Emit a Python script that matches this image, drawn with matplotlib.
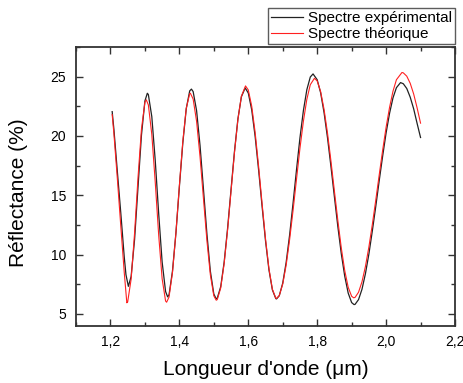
import numpy as np
import matplotlib
matplotlib.use("Agg")
import matplotlib.pyplot as plt
from matplotlib.ticker import MultipleLocator, FuncFormatter

plt.rcParams['font.family'] = ['Liberation Sans', 'DejaVu Sans']

# Spectre expérimental
x_exp = [1.205, 1.21, 1.22, 1.23, 1.24, 1.245, 1.252, 1.26, 1.27, 1.28, 1.29, 1.30, 1.307,
         1.31, 1.32, 1.33, 1.34, 1.35, 1.36, 1.366, 1.37, 1.38, 1.39, 1.40, 1.41, 1.42, 1.43, 1.435,
         1.44, 1.45, 1.46, 1.47, 1.48, 1.49, 1.50, 1.507, 1.51, 1.52, 1.53, 1.54, 1.55, 1.56, 1.57,
         1.58, 1.591, 1.60, 1.61, 1.62, 1.63, 1.64, 1.65, 1.66, 1.67, 1.68, 1.682, 1.69, 1.70, 1.71,
         1.72, 1.73, 1.74, 1.75, 1.76, 1.77, 1.78, 1.788, 1.80, 1.81, 1.82, 1.83, 1.84, 1.85, 1.86,
         1.87, 1.88, 1.89, 1.90, 1.907, 1.91, 1.92, 1.93, 1.94, 1.95, 1.96, 1.97, 1.98, 1.99, 2.00,
         2.01, 2.02, 2.03, 2.042, 2.05, 2.06, 2.07, 2.08, 2.09, 2.10]
r_exp = [22.05, 20.56, 17.0, 13.5, 9.8, 8.3, 7.32, 8.15, 11.26, 15.69, 20.07, 22.95, 23.6,
         23.49, 21.63, 17.93, 13.44, 9.37, 6.88, 6.43, 6.6, 8.6, 11.8, 15.7, 19.4, 22.3, 23.8, 23.95,
         23.74, 22.13, 19.19, 15.49, 11.73, 8.59, 6.67, 6.26, 6.32, 7.29, 9.36, 12.22, 15.49, 18.71, 21.45,
         23.3, 24.05, 23.62, 22.2, 19.94, 17.13, 14.09, 11.17, 8.71, 7.02, 6.28, 6.26, 6.53, 7.59, 9.35,
         11.65, 14.34, 17.15, 19.84, 22.14, 23.9, 24.97, 25.23, 24.74, 23.64, 21.96, 19.84, 17.41, 14.86, 12.35,
         10.06, 8.17, 6.75, 5.95, 5.78, 5.8, 6.2, 7.07, 8.38, 10.03, 11.98, 14.05, 16.22, 18.3, 20.25,
         21.9, 23.21, 24.07, 24.5, 24.4, 24.0, 23.27, 22.29, 21.06, 19.87]

# Spectre théorique
x_th = [1.205, 1.21, 1.22, 1.23, 1.24, 1.2475, 1.25, 1.26, 1.27, 1.28, 1.29, 1.30, 1.304,
        1.31, 1.32, 1.33, 1.34, 1.35, 1.36, 1.363, 1.37, 1.38, 1.39, 1.40, 1.41, 1.42, 1.43, 1.432,
        1.44, 1.45, 1.46, 1.47, 1.48, 1.49, 1.50, 1.507, 1.51, 1.52, 1.53, 1.54, 1.55, 1.56, 1.57,
        1.58, 1.592, 1.60, 1.61, 1.62, 1.63, 1.64, 1.65, 1.66, 1.67, 1.68, 1.682, 1.69, 1.70, 1.71,
        1.72, 1.73, 1.74, 1.75, 1.76, 1.77, 1.78, 1.792, 1.80, 1.81, 1.82, 1.83, 1.84, 1.85, 1.86,
        1.87, 1.88, 1.89, 1.90, 1.906, 1.91, 1.92, 1.93, 1.94, 1.95, 1.96, 1.97, 1.98, 1.99, 2.00,
        2.01, 2.02, 2.03, 2.046, 2.05, 2.06, 2.07, 2.08, 2.09, 2.10]
r_th = [21.8, 20.2, 16.4, 12.4, 8.5, 5.93, 6.01, 7.92, 11.8, 16.5, 20.58, 22.84, 23.05,
        22.62, 20.13, 16.1, 11.63, 7.96, 6.08, 5.98, 6.42, 8.48, 11.83, 15.79, 19.53, 22.33, 23.57, 23.6,
        23.11, 21.23, 18.24, 14.69, 11.16, 8.28, 6.52, 6.15, 6.2, 7.18, 9.24, 12.08, 15.35, 18.62, 21.4,
        23.35, 24.22, 23.88, 22.51, 20.28, 17.43, 14.33, 11.34, 8.81, 7.07, 6.31, 6.3, 6.54, 7.51, 9.12,
        11.26, 13.72, 16.36, 18.96, 21.24, 23.09, 24.32, 24.86, 24.64, 23.74, 22.23, 20.23, 17.87, 15.35, 12.86,
        10.55, 8.64, 7.24, 6.48, 6.35, 6.39, 6.82, 7.7, 8.99, 10.63, 12.52, 14.58, 16.71, 18.79, 20.73,
        22.4, 23.77, 24.74, 25.35, 25.32, 25.04, 24.44, 23.54, 22.37, 21.08]

fig = plt.figure(figsize=(4.64, 3.83), dpi=100)
ax = fig.add_axes([76 / 464, 1 - 325.7 / 383, 379 / 464, 278.7 / 383])

l1, = ax.plot(x_exp, r_exp, color='#222222', lw=0.9, label='Spectre expérimental')
l2, = ax.plot(x_th, r_th, color='#ff2020', lw=0.8, label='Spectre théorique')

ax.set_xlim(1.1, 2.2)
ax.set_ylim(4, 27.5)
ax.xaxis.set_major_locator(MultipleLocator(0.2))
ax.xaxis.set_minor_locator(MultipleLocator(0.1))
ax.yaxis.set_major_locator(MultipleLocator(5))
ax.yaxis.set_minor_locator(MultipleLocator(2.5))
ax.xaxis.set_major_formatter(FuncFormatter(lambda v, p: f"{v:.1f}".replace('.', ',')))
ax.yaxis.set_major_formatter(FuncFormatter(lambda v, p: f"{v:.0f}"))

ax.tick_params(which='both', direction='in', top=True, right=True, width=1.0, color='#333333')
ax.tick_params(which='major', length=5, labelsize=10, pad=7)
ax.tick_params(which='minor', length=3)
for s in ax.spines.values():
    s.set_linewidth(1.3)
    s.set_color('#333333')

ax.set_xlabel("Longueur d'onde (μm)", fontsize=15)
ax.set_ylabel("Réflectance (%)", fontsize=15)
ax.xaxis.set_label_coords(0.5, -0.123)
ax.yaxis.set_label_coords(-0.127, 0.476)

leg = fig.legend(handles=[l1, l2], loc='upper right', bbox_to_anchor=(455 / 464, 1 - 8 / 383),
                 fontsize=11, frameon=True, fancybox=False, borderpad=0.2, labelspacing=0.12,
                 handlelength=2.1, handletextpad=0.3, borderaxespad=0)
leg.get_frame().set_edgecolor('#333333')
leg.get_frame().set_linewidth(1.0)

fig.savefig('out.png', dpi=100)
